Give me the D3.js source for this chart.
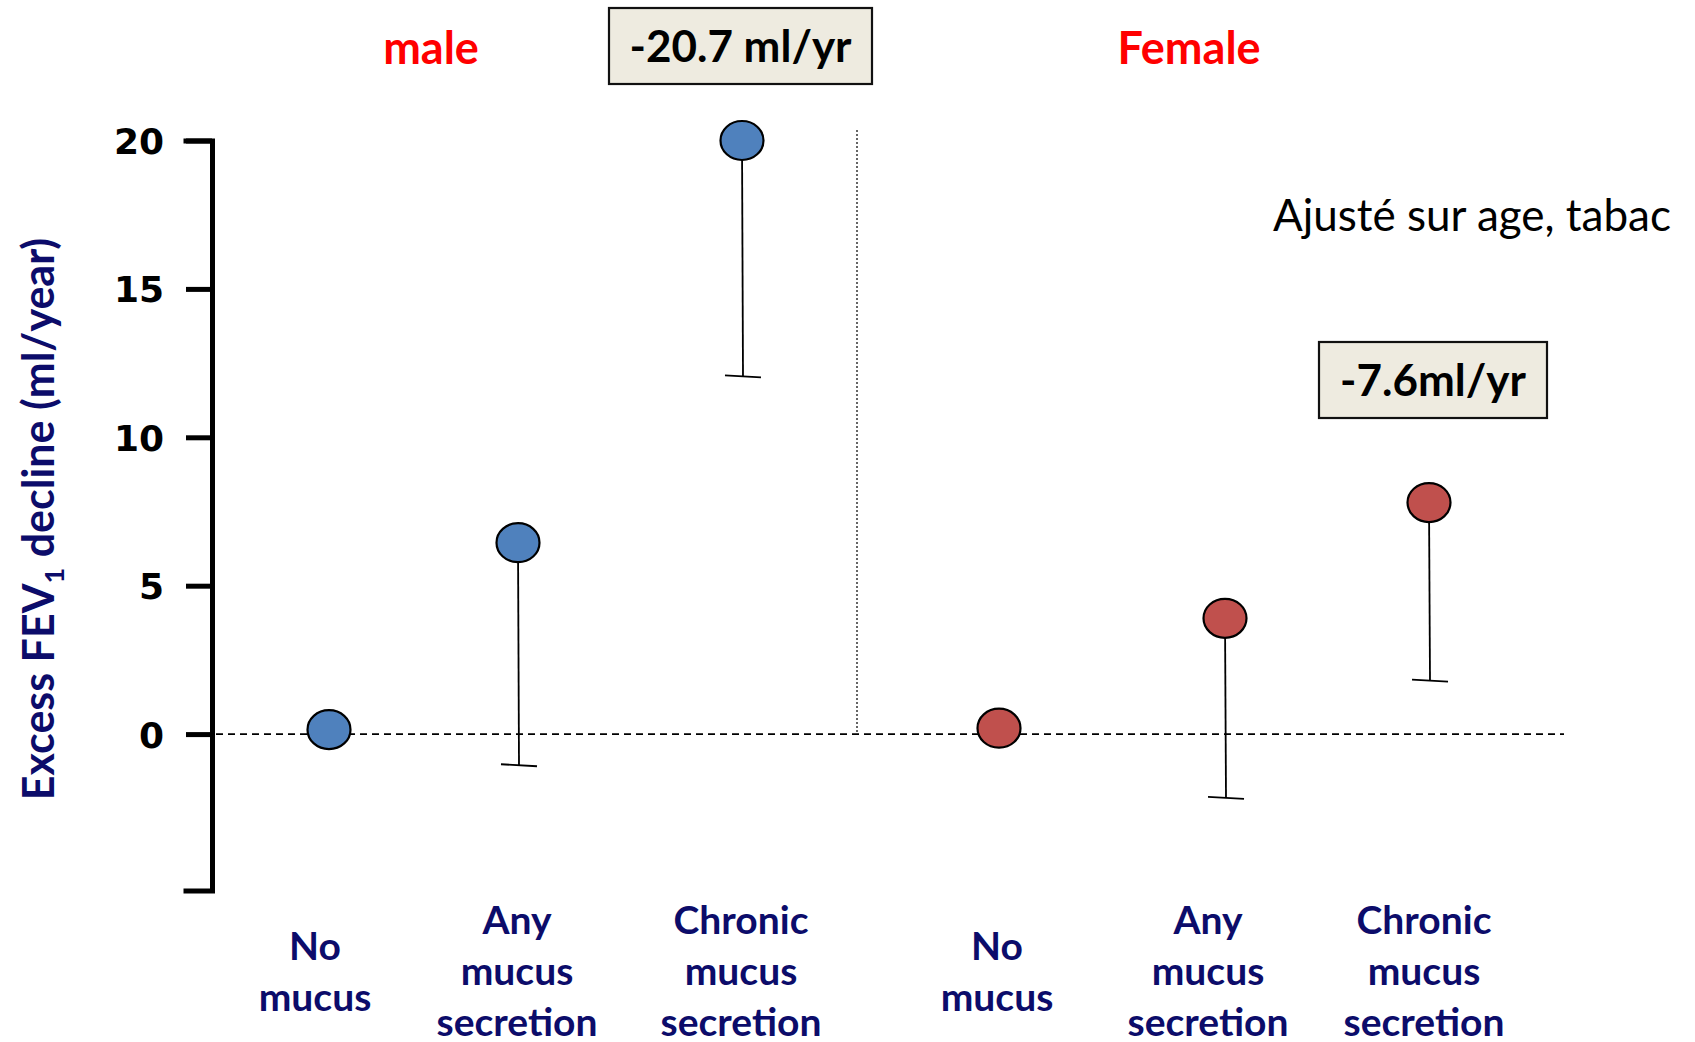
<!DOCTYPE html>
<html>
<head>
<meta charset="utf-8">
<script src="https://cdn.jsdelivr.net/npm/d3@7"></script>
<style>
  body { margin: 0; background: #fff; }
  svg { display: block; }
</style>
</head>
<body>
<div class="chart"></div>
<script>
// data
const groups = ["male", "Female"];
const categories = ["No mucus", "Any mucus secretion", "Chronic mucus secretion"];
const categoryLines = [["No", "mucus"], ["Any", "mucus", "secretion"], ["Chronic", "mucus", "secretion"]];
const maleValues = [0.15, 6.45, 20.0];
const maleLower = [null, -1.05, 12.05];
const femaleValues = [0.2, 3.9, 7.8];
const femaleLower = [null, -2.15, 1.8];
const boxLabels = ["-20.7 ml/yr", "-7.6ml/yr"];
const yTicks = [0, 5, 10, 15, 20];

var width = 1695, height = 1042;
var navy = "#0c0c6a";
var calibri = "Lato, 'Open Sans', sans-serif";

var svg = d3.select(".chart").append("svg")
    .attr("width", width)
    .attr("height", height);

// one key per plotted point
var keys = [];
groups.forEach(function(g) {
    categories.forEach(function(c, i) { keys.push(g + i); });
});

var points = [];
maleValues.forEach(function(v, i) {
    points.push({key: "male" + i, group: "male", value: v, lower: maleLower[i]});
});
femaleValues.forEach(function(v, i) {
    points.push({key: "Female" + i, group: "Female", value: v, lower: femaleLower[i]});
});

var x = d3.scaleOrdinal()
    .domain(keys)
    .range([329, 518, 742, 999, 1225, 1429]);

var labelX = d3.scaleOrdinal()
    .domain(keys)
    .range([315, 517, 741, 997, 1208, 1424]);

var y = d3.scaleLinear()
    .domain([-5.27, 20])
    .range([890.5, 140.5]);

var color = d3.scaleOrdinal()
    .domain(groups)
    .range(["#4f81bd", "#c0504d"]);

var axisX = 212;

// y axis
var yAxis = svg.append("g")
    .attr("transform", "translate(" + axisX + ",0)")
    .call(d3.axisLeft(y)
        .tickValues(yTicks)
        .tickSize(26)
        .tickSizeOuter(26)
        .tickPadding(22));

yAxis.select(".domain")
    .attr("stroke", "#000")
    .attr("stroke-width", 5)
    .attr("stroke-linecap", "square")
    .attr("fill", "none");
yAxis.selectAll(".tick line")
    .attr("stroke", "#000")
    .attr("stroke-width", 5);
yAxis.selectAll(".tick text")
    .attr("font-family", "'DejaVu Sans', Verdana, sans-serif")
    .attr("font-weight", "bold")
    .attr("font-size", 36)
    .attr("fill", "#000")
    .attr("dy", "0.36em");

// y axis title
var ytitle = svg.append("text")
    .attr("transform", "translate(54,519) rotate(-90)")
    .attr("text-anchor", "middle")
    .attr("font-family", calibri)
    .attr("font-weight", "bold")
    .attr("font-size", 43)
    .attr("fill", navy);
ytitle.append("tspan").text("Excess FEV");
ytitle.append("tspan").attr("font-size", 27).attr("dy", 10).text("1");
ytitle.append("tspan").attr("dy", -10).text(" decline (ml/year)");

// zero reference line
svg.append("line")
    .attr("x1", axisX + 4)
    .attr("x2", 1564)
    .attr("y1", y(0))
    .attr("y2", y(0))
    .attr("stroke", "#000")
    .attr("stroke-width", 1.6)
    .attr("stroke-dasharray", "7,5");

// separator between groups
svg.append("line")
    .attr("x1", 857)
    .attr("x2", 857)
    .attr("y1", 130)
    .attr("y2", y(0))
    .attr("stroke", "#333")
    .attr("stroke-width", 1.5)
    .attr("stroke-dasharray", "2,2");

// error bars
var bars = points.filter(function(d) { return d.lower !== null; });
svg.selectAll(".err")
    .data(bars)
    .enter()
    .append("line")
    .attr("class", "err")
    .attr("x1", function(d) { return x(d.key); })
    .attr("x2", function(d) { return x(d.key) + 1; })
    .attr("y1", function(d) { return y(d.value); })
    .attr("y2", function(d) { return y(d.lower); })
    .attr("stroke", "#000")
    .attr("stroke-width", 1.8);

svg.selectAll(".cap")
    .data(bars)
    .enter()
    .append("line")
    .attr("class", "cap")
    .attr("x1", function(d) { return x(d.key) - 17; })
    .attr("x2", function(d) { return x(d.key) + 19; })
    .attr("y1", function(d) { return y(d.lower) - 1; })
    .attr("y2", function(d) { return y(d.lower) + 1; })
    .attr("stroke", "#000")
    .attr("stroke-width", 1.8);

// points
svg.selectAll(".pt")
    .data(points)
    .enter()
    .append("ellipse")
    .attr("class", "pt")
    .attr("cx", function(d) { return x(d.key); })
    .attr("cy", function(d) { return y(d.value); })
    .attr("rx", 21.5)
    .attr("ry", 19.5)
    .attr("fill", function(d) { return color(d.group); })
    .attr("stroke", "#000")
    .attr("stroke-width", 2.2);

// group titles
svg.selectAll(".gtitle")
    .data(groups)
    .enter()
    .append("text")
    .attr("class", "gtitle")
    .attr("x", function(d) { return d == "male" ? 431 : 1189; })
    .attr("y", 64)
    .attr("text-anchor", "middle")
    .attr("font-family", calibri)
    .attr("font-weight", "bold")
    .attr("font-size", 45)
    .attr("fill", "#ff0000")
    .text(function(d) { return d; });

// boxed annotations
var boxes = [
    {text: boxLabels[0], x: 609, y: 8, w: 263, h: 76, key: "male2"},
    {text: boxLabels[1], x: 1319, y: 342, w: 228, h: 76, key: "Female2"}
];
var box = svg.selectAll(".box")
    .data(boxes)
    .enter()
    .append("g")
    .attr("class", "box");
box.append("rect")
    .attr("x", function(d) { return d.x; })
    .attr("y", function(d) { return d.y; })
    .attr("width", function(d) { return d.w; })
    .attr("height", function(d) { return d.h; })
    .attr("fill", "#eeebe0")
    .attr("stroke", "#111")
    .attr("stroke-width", 2.2);
box.append("text")
    .attr("x", function(d) { return d.x + d.w / 2; })
    .attr("y", function(d) { return d.y + d.h / 2; })
    .attr("dy", "0.36em")
    .attr("text-anchor", "middle")
    .attr("font-family", calibri)
    .attr("font-weight", "bold")
    .attr("font-size", 44)
    .attr("fill", "#000")
    .text(function(d) { return d.text; });

// adjustment note
svg.append("text")
    .attr("x", 1273)
    .attr("y", 231)
    .attr("font-family", calibri)
    .attr("font-size", 44)
    .attr("fill", "#000")
    .text("Ajusté sur age, tabac");

// category labels
keys.forEach(function(k, i) {
    var lines = categoryLines[i % 3];
    var top = lines.length == 2 ? 947 : 921;
    var t = svg.append("text")
        .attr("x", labelX(k))
        .attr("text-anchor", "middle")
        .attr("font-family", calibri)
        .attr("font-weight", "bold")
        .attr("font-size", 39)
        .attr("fill", navy);
    lines.forEach(function(l, j) {
        t.append("tspan")
            .attr("x", labelX(k))
            .attr("y", top + j * 51 + 13)
            .text(l);
    });
});
</script>
</body>
</html>
